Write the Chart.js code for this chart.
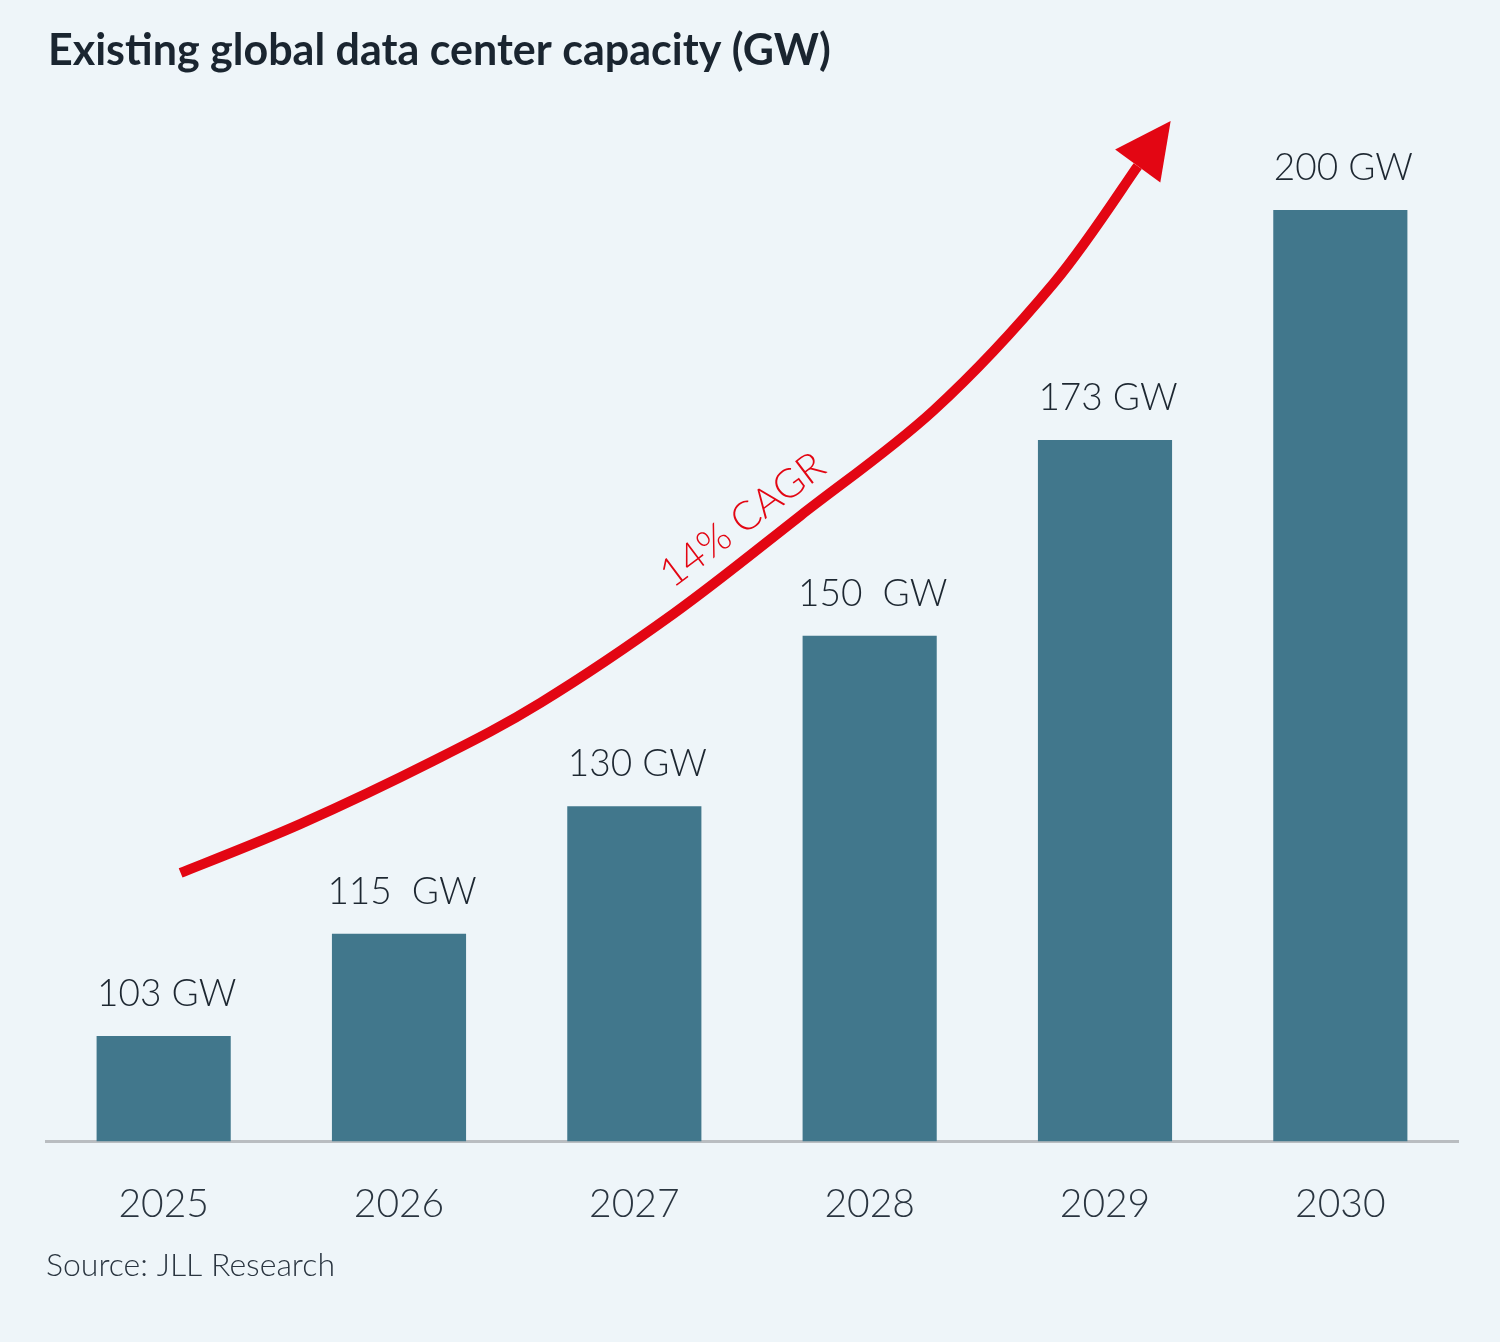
<!DOCTYPE html>
<html>
<head>
<meta charset="utf-8">
<script src="https://cdn.jsdelivr.net/npm/chart.js@4.4.1/dist/chart.umd.min.js"></script>
<style>
  html, body { margin: 0; padding: 0; background: #eef5f9; }
  #wrap { width: 1500px; height: 1342px; position: relative; }
</style>
</head>
<body>
<div id="wrap"><canvas id="c" width="1500" height="1342"></canvas></div>
<script>
// ---- data ----
const chartTitle = 'Existing global data center capacity (GW)';
const sourceNote = 'Source: JLL Research';
const categories = ['2025', '2026', '2027', '2028', '2029', '2030'];
const capacityGW = [103, 115, 130, 150, 173, 200];
const valueLabels = ['103 GW', '115  GW', '130 GW', '150  GW', '173 GW', '200 GW'];
// trend arrow path in data space: [category index, GW]
const arrowPathX = [0.072, 0.582, 1.147, 1.602, 2.167, 2.707, 3.272, 3.782, 4.139];
const arrowPathY = [122.16, 127.92, 135.33, 142.15, 152.61, 164.14, 176.48, 191.41, 205.17];
const arrowTip = [4.279, 210.46];
const cagrLabel = '14% CAGR';
const cagrAnchor = [2.46, 163.6];

const FONT = 'Lato, "Open Sans", sans-serif';
const BAR = '#41778c';
const RED = '#e30613';
const TEXT = '#1d2731';

const bgPlugin = {
  id: 'bg',
  beforeDraw(chart) {
    const ctx = chart.ctx;
    ctx.save();
    ctx.fillStyle = '#eef5f9';
    ctx.fillRect(0, 0, chart.width, chart.height);
    ctx.restore();
  }
};

const textPlugin = {
  id: 'texts',
  afterDraw(chart) {
    const ctx = chart.ctx;
    ctx.save();
    ctx.fillStyle = '#1a2530';
    ctx.font = '700 43px ' + FONT;
    ctx.textAlign = 'left';
    ctx.textBaseline = 'alphabetic';
    ctx.fillText(chartTitle, 48, 65);
    ctx.fillStyle = '#2a3540';
    ctx.font = '300 32px ' + FONT;
    ctx.fillText(sourceNote, 46, 1276);
    ctx.restore();
  }
};

function catmull(ctx, pts) {
  ctx.moveTo(pts[0][0], pts[0][1]);
  for (let i = 0; i < pts.length - 1; i++) {
    const p0 = pts[i - 1] || pts[i];
    const p1 = pts[i];
    const p2 = pts[i + 1];
    const p3 = pts[i + 2] || p2;
    const c1x = p1[0] + (p2[0] - p0[0]) / 6;
    const c1y = p1[1] + (p2[1] - p0[1]) / 6;
    const c2x = p2[0] - (p3[0] - p1[0]) / 6;
    const c2y = p2[1] - (p3[1] - p1[1]) / 6;
    ctx.bezierCurveTo(c1x, c1y, c2x, c2y, p2[0], p2[1]);
  }
}

const overlayPlugin = {
  id: 'overlay',
  afterDatasetsDraw(chart) {
    const ctx = chart.ctx;
    const xs = chart.scales.x, ys = chart.scales.y;
    // value labels
    const meta = chart.getDatasetMeta(0);
    ctx.save();
    ctx.fillStyle = TEXT;
    ctx.font = '300 37px ' + FONT;
    ctx.textAlign = 'center';
    ctx.textBaseline = 'alphabetic';
    meta.data.forEach((bar, i) => {
      ctx.fillText(valueLabels[i], bar.x + 3, bar.y - 30);
    });
    // arrow
    const pts = arrowPathX.map((x, i) => [xs.getPixelForValue(x), ys.getPixelForValue(arrowPathY[i])]);
    ctx.strokeStyle = RED;
    ctx.lineWidth = 10;
    ctx.lineCap = 'butt';
    ctx.lineJoin = 'round';
    ctx.beginPath();
    catmull(ctx, pts);
    ctx.stroke();
    const tip = [xs.getPixelForValue(arrowTip[0]), ys.getPixelForValue(arrowTip[1])];
    const base = pts[pts.length - 1];
    const dx = tip[0] - base[0], dy = tip[1] - base[1];
    const len = Math.hypot(dx, dy);
    const nx = -dy / len, ny = dx / len;
    const hw = 28;
    ctx.fillStyle = RED;
    ctx.beginPath();
    ctx.moveTo(tip[0], tip[1]);
    ctx.lineTo(base[0] + nx * hw, base[1] + ny * hw);
    ctx.lineTo(base[0] - nx * hw, base[1] - ny * hw);
    ctx.closePath();
    ctx.fill();
    // CAGR label
    const ax = xs.getPixelForValue(cagrAnchor[0]);
    const ay = ys.getPixelForValue(cagrAnchor[1]);
    ctx.translate(ax, ay);
    ctx.rotate(-37 * Math.PI / 180);
    ctx.font = '300 40px ' + FONT;
    ctx.fillStyle = RED;
    ctx.textAlign = 'center';
    ctx.textBaseline = 'middle';
    ctx.fillText(cagrLabel, 0, 0);
    ctx.restore();
  }
};

new Chart(document.getElementById('c'), {
  type: 'bar',
  data: {
    labels: categories,
    datasets: [{
      data: capacityGW,
      backgroundColor: BAR,
      borderWidth: 0,
      barPercentage: 0.57,
      categoryPercentage: 1.0
    }]
  },
  options: {
    responsive: false,
    animation: false,
    events: [],
    layout: { padding: { left: 46, right: 42, top: 100, bottom: 74 } },
    plugins: {
      legend: { display: false },
      title: { display: false },
      tooltip: { enabled: false }
    },
    scales: {
      x: {
        grid: { display: false, drawTicks: false },
        border: { display: true, color: '#b9bdc1', width: 3 },
        ticks: {
          color: '#2a3540',
          font: { family: FONT, size: 39, weight: '300' },
          padding: 40
        }
      },
      y: {
        display: false,
        min: 90.65,
        max: 212.93
      }
    }
  },
  plugins: [bgPlugin, overlayPlugin, textPlugin]
});
</script>
</body>
</html>
